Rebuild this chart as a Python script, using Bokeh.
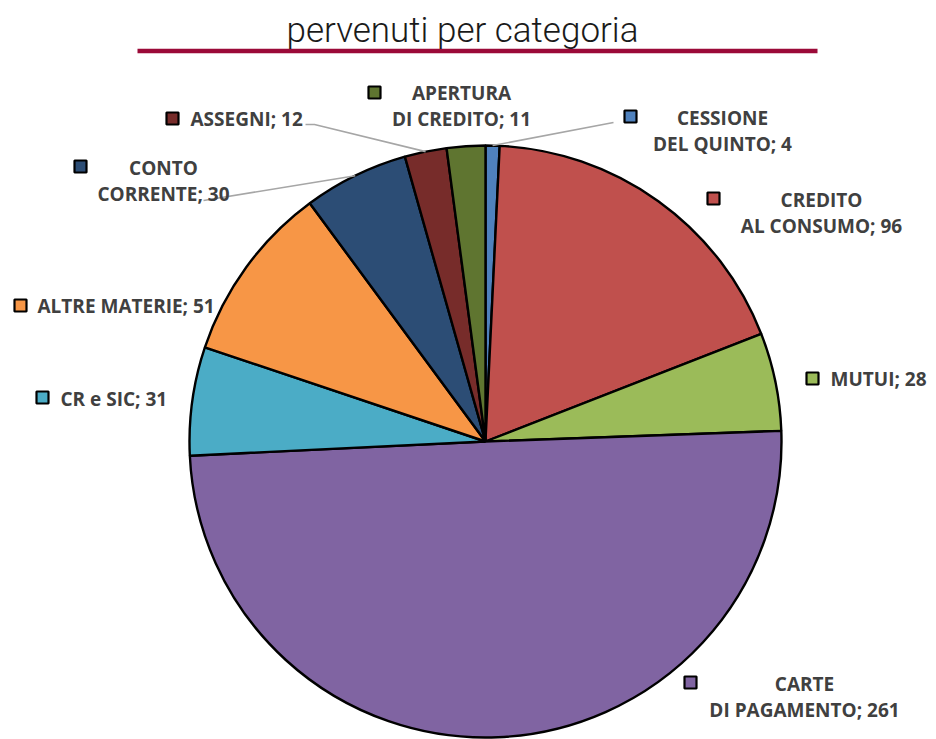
import numpy as np
import pandas as pd
from bokeh.plotting import figure
from bokeh.models import ColumnDataSource, Range1d, Label
from bokeh.core.properties import value
from bokeh.embed import file_html
from bokeh.resources import INLINE

# ---------------- data ----------------
title_text = "pervenuti per categoria"
categories = ["CESSIONE DEL QUINTO", "CREDITO AL CONSUMO", "MUTUI", "CARTE DI PAGAMENTO",
              "CR e SIC", "ALTRE MATERIE", "CONTO CORRENTE", "ASSEGNI", "APERTURA DI CREDITO"]
label_lines = [["CESSIONE", "DEL QUINTO"], ["CREDITO", "AL CONSUMO"], ["MUTUI"],
               ["CARTE", "DI PAGAMENTO"], ["CR e SIC"], ["ALTRE MATERIE"],
               ["CONTO", "CORRENTE"], ["ASSEGNI"], ["APERTURA", "DI CREDITO"]]
values = [4, 96, 28, 261, 31, 51, 30, 12, 11]
colors = ["#4F81BD", "#C0504D", "#9BBB59", "#8064A2", "#4BACC6",
          "#F79646", "#2C4D75", "#772C2A", "#5F7530"]

# ---------------- layout (page pixel coords) ----------------
W, H = 936, 739


def Y(py):
    return H - py


CX, CY, R = 485, 441, 296
# key square position, text x, text alignment, first line y
key_pos = [(630, 116), (713, 198), (812, 378), (690, 682), (42, 397),
           (20, 305), (80, 166), (172, 118), (374, 92)]
text_x = [722, 821, 830, 804, 60, 37, 163, 190, 461]
text_align = ["center", "center", "left", "center", "left", "left", "center", "left", "center"]
text_y0 = [117, 199, 378, 683, 398, 305, 167, 118, 92]
LINE_GAP = 26.5
leader_start = {0: [(613, 122)], 6: [(203, 200)], 7: [(305, 124), (314, 124)]}

p = figure(width=W, height=H, output_backend="svg", toolbar_location=None,
           x_range=Range1d(0, W), y_range=Range1d(0, H),
           min_border=0, background_fill_color="white", border_fill_color="white")
p.axis.visible = False
p.grid.visible = False
p.outline_line_color = None

# pie wedges
df = pd.DataFrame({"cat": categories, "val": values, "color": colors})
total = df["val"].sum()
cum_end = df["val"].cumsum() / total
cum_start = cum_end - df["val"] / total
df["start"] = np.pi / 2 - 2 * np.pi * cum_start
df["end"] = np.pi / 2 - 2 * np.pi * cum_end
df["mid"] = (df["start"] + df["end"]) / 2
src = ColumnDataSource(df)
p.wedge(x=CX, y=Y(CY), radius=R, start_angle="start", end_angle="end",
        direction="clock", fill_color="color", line_color="black", line_width=2.4,
        source=src)

# leader lines
for i, pts in leader_start.items():
    mid = df["mid"].iloc[i]
    ex = CX + R * np.cos(mid)
    ey = Y(CY) + R * np.sin(mid)
    xs = [q[0] for q in pts] + [ex]
    ys = [Y(q[1]) for q in pts] + [ey]
    p.line(xs, ys, line_color="#A6A6A6", line_width=1.6)

# legend keys
p.scatter(x=[k[0] for k in key_pos], y=[Y(k[1]) for k in key_pos], marker="square",
          size=12, fill_color=colors, line_color="black", line_width=2.2)

# label texts
tx, ty, tt, ta = [], [], [], []
for i, lines in enumerate(label_lines):
    n = len(lines)
    for j, ln in enumerate(lines):
        s = ln + ("; %d" % values[i] if j == n - 1 else "")
        tx.append(text_x[i])
        ty.append(Y(text_y0[i] + j * LINE_GAP))
        tt.append(s)
        ta.append(text_align[i])
tsrc = ColumnDataSource(dict(x=tx, y=ty, text=tt, align=ta))
p.text(x="x", y="y", text="text", text_align="align", text_baseline="middle",
       text_font=value("Open Sans"), text_font_style="bold", text_font_size="19px",
       text_color="#404040", source=tsrc)

# title
p.add_layout(Label(x=462, y=Y(30), text=title_text, text_align="center",
                   text_baseline="alphabetic", text_font="Roboto Light",
                   text_font_size="35px", text_color="#1a1a1a"))
p.segment(x0=[137], y0=[Y(50.5)], x1=[817], y1=[Y(50.5)], line_width=4.5, line_color="#9B0A38")

open("out.html", "w").write(file_html(p, INLINE))
